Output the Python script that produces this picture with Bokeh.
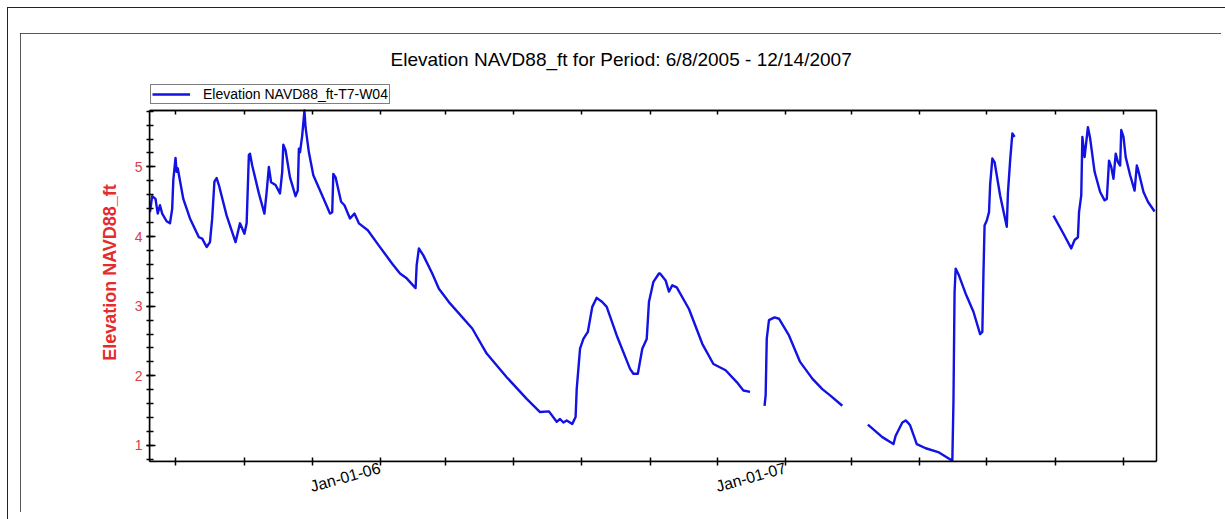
from datetime import datetime, timedelta
import numpy as np
import pandas as pd
from bokeh.plotting import figure
from bokeh.models import (Range1d, DatetimeAxis, FixedTicker, SingleIntervalTicker,
                          Legend, LegendItem, ColumnDataSource, Title, BoxAnnotation)
from bokeh.embed import file_html
from bokeh.resources import INLINE

title_text = "Elevation NAVD88_ft for Period: 6/8/2005 - 12/14/2007"
series_name = "Elevation NAVD88_ft-T7-W04"
y_label = "Elevation NAVD88_ft"

NaN = float("nan")
dates = [
    "2005-06-08", "2005-06-10", "2005-06-13", "2005-06-15", "2005-06-17", "2005-06-19",
    "2005-06-23", "2005-06-26", "2005-06-28", "2005-06-29", "2005-07-01", "2005-07-02",
    "2005-07-03", "2005-07-08", "2005-07-14", "2005-07-22", "2005-07-25", "2005-07-29",
    "2005-08-01", "2005-08-03", "2005-08-05", "2005-08-07", "2005-08-09", "2005-08-16",
    "2005-08-24", "2005-08-28", "2005-09-01", "2005-09-03", "2005-09-05", "2005-09-06",
    "2005-09-08", "2005-09-14", "2005-09-19", "2005-09-21", "2005-09-23", "2005-09-25",
    "2005-09-29", "2005-10-03", "2005-10-05", "2005-10-06", "2005-10-08", "2005-10-12",
    "2005-10-17", "2005-10-19", "2005-10-20", "2005-10-21", "2005-10-23", "2005-10-25",
    "2005-10-26", "2005-10-29", "2005-11-02", "2005-11-10", "2005-11-17", "2005-11-19",
    "2005-11-20", "2005-11-22", "2005-11-27", "2005-11-30", "2005-12-05", "2005-12-09",
    "2005-12-13", "2005-12-21", "2005-12-31", "2006-01-12", "2006-01-19", "2006-01-25",
    "2006-02-02", "2006-02-03", "2006-02-05", "2006-02-09", "2006-02-17", "2006-02-23",
    "2006-03-05", "2006-03-25", "2006-04-07", "2006-04-25", "2006-05-13", "2006-05-25",
    "2006-06-02", "2006-06-09", "2006-06-12", "2006-06-15", "2006-06-18", "2006-06-23",
    "2006-06-26", "2006-06-27", "2006-06-30", "2006-07-03", "2006-07-07", "2006-07-11",
    "2006-07-15", "2006-07-20", "2006-07-24", "2006-08-02", "2006-08-14", "2006-08-17",
    "2006-08-21", "2006-08-25", "2006-08-29", "2006-08-31", "2006-09-04", "2006-09-09",
    "2006-09-10", "2006-09-15", "2006-09-18", "2006-09-21", "2006-09-25", "2006-10-06",
    "2006-10-18", "2006-10-28", "2006-11-08", "2006-11-18", "2006-11-24", "2006-11-30",
    "2006-12-06",
    "2006-12-13", "2006-12-14", "2006-12-15", "2006-12-17", "2006-12-22", "2006-12-26",
    "2007-01-04", "2007-01-14", "2007-01-25", "2007-02-03", "2007-02-10", "2007-02-21",
    "2007-03-05",
    "2007-03-16", "2007-03-29", "2007-04-08", "2007-04-10", "2007-04-16", "2007-04-19",
    "2007-04-22", "2007-04-23", "2007-04-29", "2007-05-07", "2007-05-19", "2007-05-31",
    "2007-06-01", "2007-06-02", "2007-06-03", "2007-06-06", "2007-06-12", "2007-06-19",
    "2007-06-25", "2007-06-27", "2007-06-28", "2007-06-29", "2007-07-01", "2007-07-03",
    "2007-07-04", "2007-07-06", "2007-07-08", "2007-07-13", "2007-07-19", "2007-07-20",
    "2007-07-22", "2007-07-24", "2007-07-26",
    "2007-08-10",
    "2007-08-30", "2007-09-08", "2007-09-15", "2007-09-18", "2007-09-21", "2007-09-22",
    "2007-09-24", "2007-09-25", "2007-09-27", "2007-09-30", "2007-10-02", "2007-10-06",
    "2007-10-11", "2007-10-15", "2007-10-17", "2007-10-19", "2007-10-21", "2007-10-23",
    "2007-10-25", "2007-10-27", "2007-10-29", "2007-10-30", "2007-11-01", "2007-11-03",
    "2007-11-07", "2007-11-11", "2007-11-13", "2007-11-14", "2007-11-19", "2007-11-23",
    "2007-11-29",
]
values = [
    4.35, 4.58, 4.54, 4.33, 4.45, 4.33,
    4.22, 4.19, 4.40, 4.81, 5.13, 4.93,
    4.98, 4.54, 4.26, 3.99, 3.97, 3.85,
    3.92, 4.26, 4.79, 4.84, 4.74, 4.30,
    3.92, 4.19, 4.04, 4.19, 5.17, 5.19,
    5.02, 4.62, 4.33, 4.64, 5.00, 4.78,
    4.74, 4.62, 4.93, 5.32, 5.24, 4.85,
    4.58, 4.66, 5.26, 5.21, 5.45, 5.81,
    5.57, 5.21, 4.88, 4.59, 4.33, 4.35,
    4.90, 4.85, 4.50, 4.45, 4.26, 4.33,
    4.19, 4.09, 3.87, 3.61, 3.47, 3.40,
    3.26, 3.59, 3.83, 3.73, 3.47, 3.25,
    3.04, 2.68, 2.32, 1.98, 1.67, 1.48,
    1.49, 1.34, 1.38, 1.33, 1.36, 1.31,
    1.41, 1.81, 2.39, 2.53, 2.63, 2.99,
    3.12, 3.06, 2.99, 2.58, 2.10, 2.03,
    2.03, 2.39, 2.53, 3.06, 3.35, 3.47,
    3.47, 3.37, 3.21, 3.30, 3.27, 2.96,
    2.46, 2.17, 2.08, 1.91, 1.79, 1.77,
    NaN,
    1.57, 1.72, 2.53, 2.80, 2.84, 2.82,
    2.58, 2.20, 1.96, 1.81, 1.72, 1.57,
    NaN,
    1.30, 1.12, 1.02, 1.14, 1.33, 1.36,
    1.31, 1.29, 1.02, 0.96, 0.90, 0.78,
    1.62, 3.20, 3.54, 3.44, 3.18, 2.92,
    2.60, 2.63, 3.47, 4.16, 4.23, 4.35,
    4.74, 5.12, 5.07, 4.59, 4.14, 4.62,
    5.09, 5.48, 5.43,
    NaN,
    4.30, 4.04, 3.83, 3.95, 3.99, 4.35,
    4.59, 5.43, 5.14, 5.57, 5.41, 4.93,
    4.64, 4.52, 4.54, 5.09, 5.00, 4.83,
    5.19, 5.07, 5.02, 5.53, 5.43, 5.14,
    4.88, 4.66, 5.02, 4.97, 4.64, 4.50,
    4.36,
]

tick_dates = ["2005-07-01", "2005-09-01", "2005-11-01", "2006-01-01", "2006-03-01",
              "2006-05-01", "2006-07-01", "2006-09-01", "2006-11-01", "2007-01-01",
              "2007-03-01", "2007-05-01", "2007-07-01", "2007-09-01", "2007-11-01"]
tick_labels = {"2006-01-01": "Jan-01-06", "2007-01-01": "Jan-01-07"}

# axis box extents
x_start = datetime(2005, 6, 7, 14)
x_end = datetime(2007, 11, 30, 17)
y_start, y_end = 0.77, 5.81

# layout (pixels)
BOX_W, BOX_H = 1007, 351          # plot box inside the frame
PAD_TOP, PAD_RIGHT = 27, 2        # extra frame room above / right of the plot box (legend sits there)
px_per_unit = BOX_H / (y_end - y_start)
px_per_day = BOX_W / ((x_end - x_start).total_seconds() / 86400.0)
frame_y_end = y_end + PAD_TOP / px_per_unit
frame_x_end = x_end + timedelta(days=PAD_RIGHT / px_per_day)


def to_ms(s):
    return float((pd.Timestamp(s) - pd.Timestamp("1970-01-01")).total_seconds() * 1000.0)


tick_ms = [to_ms(d) for d in tick_dates]
overrides = {to_ms(d): tick_labels.get(d, "") for d in tick_dates}

src = ColumnDataSource(data=dict(date=pd.to_datetime(dates), value=np.array(values, dtype=float)))

FONT = "Liberation Sans"
LINE_BLUE = "#1212e2"

p = figure(width=1201, height=479, x_axis_type="datetime",
           x_range=Range1d(x_start, frame_x_end), y_range=Range1d(y_start, frame_y_end),
           output_backend="svg", toolbar_location=None,
           min_border_left=129, min_border_right=1201 - 129 - BOX_W - PAD_RIGHT,
           min_border_top=50, min_border_bottom=51)
p.margin = (33, 0, 0, 20)
p.styles = {
    "outline": "1.5px solid #222222",
    "outline-offset": "-1px",
    "box-shadow": "7px -6px 0 19px white, 7px -6px 0 20px #222222",
}
p.xgrid.visible = False
p.ygrid.visible = False
p.outline_line_color = None
p.background_fill_color = "white"
p.border_fill_color = "white"

# plot box (top and right edges)
box = BoxAnnotation(left=x_start, right=x_end, bottom=y_start, top=y_end,
                    fill_alpha=0, fill_color=None, line_color="black", line_alpha=1.0, line_width=1.5)
p.add_layout(box)

r = p.line(x="date", y="value", source=src, line_color=LINE_BLUE, line_width=2.4, line_join="round")

# bottom axis
xa = p.xaxis[0]
xa.ticker = FixedTicker(ticks=tick_ms)
xa.bounds = (x_start, x_end)
xa.major_label_overrides = overrides
xa.major_label_orientation = 0.27
xa.major_tick_in = 4
xa.major_tick_out = 4
xa.minor_tick_line_color = None
xa.axis_line_width = 1.5
xa.major_tick_line_width = 1.5
xa.major_label_text_font = FONT
xa.major_label_text_font_size = "16px"
xa.major_label_text_color = "black"
xa.major_label_standoff = 2

# top mirrored ticks, drawn on the top edge of the plot box
ta = DatetimeAxis(ticker=FixedTicker(ticks=tick_ms), major_label_text_color=None,
                  fixed_location=y_end, bounds=(x_start, x_end),
                  major_tick_in=4, major_tick_out=0, minor_tick_line_color=None,
                  axis_line_width=1.5, major_tick_line_width=1.5)
p.add_layout(ta, "above")

# left axis
ya = p.yaxis[0]
ya.ticker = SingleIntervalTicker(interval=1, num_minor_ticks=5)
ya.bounds = (y_start, y_end)
ya.major_tick_in = 6
ya.major_tick_out = 3
ya.minor_tick_in = 4
ya.minor_tick_out = 3
ya.axis_line_width = 1.5
ya.major_tick_line_width = 1.5
ya.minor_tick_line_width = 1.5
ya.major_label_text_font = FONT
ya.major_label_text_font_size = "14px"
ya.major_label_text_color = "#d8404c"
ya.major_label_standoff = 4
ya.axis_label = y_label
ya.axis_label_text_font = FONT
ya.axis_label_text_font_size = "18px"
ya.axis_label_text_font_style = "bold"
ya.axis_label_text_color = "#e62b2b"
ya.axis_label_standoff = 12

legend = Legend(items=[LegendItem(label=series_name, renderers=[r])],
                location="top_left", orientation="vertical",
                padding=1, spacing=0, margin=1,
                glyph_width=38, glyph_height=16, label_height=16, label_standoff=13,
                label_text_font=FONT, label_text_font_size="14px", label_text_color="black",
                border_line_color="black", border_line_width=1,
                background_fill_color="white", background_fill_alpha=1)
p.add_layout(legend)

p.title = Title(text=title_text, align="left", offset=241, vertical_align="top", standoff=24,
                text_font=FONT, text_font_size="19px", text_font_style="normal",
                text_color="black")

open("out.html", "w").write(file_html(p, INLINE))
